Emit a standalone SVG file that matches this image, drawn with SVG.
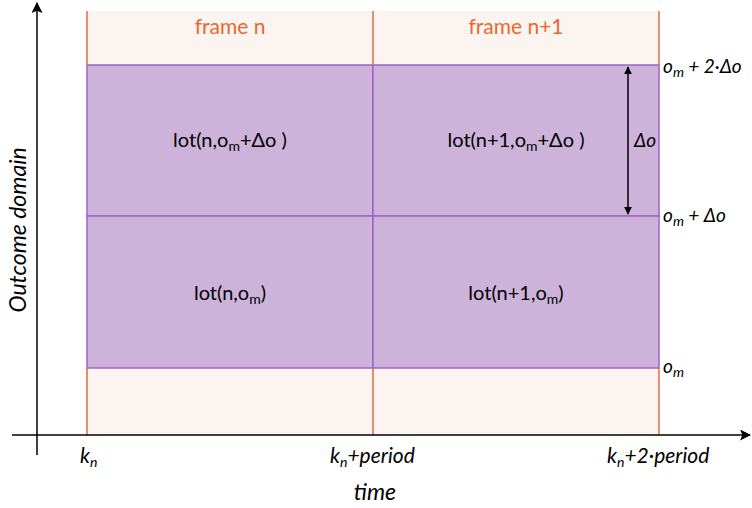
<svg xmlns="http://www.w3.org/2000/svg" width="752" height="508" viewBox="0 0 752 508">
<defs>
<marker id="ah" viewBox="0 0 10 10" refX="9" refY="5" markerWidth="8" markerHeight="8" markerUnits="userSpaceOnUse" orient="auto-start-reverse">
<path d="M0,0 L10,5 L0,10 Z" fill="#000"/>
</marker>
<marker id="ax" viewBox="0 0 10 10" refX="9" refY="5" markerWidth="11" markerHeight="11" markerUnits="userSpaceOnUse" orient="auto">
<path d="M0,0 L10,5 L0,10 L2,5 Z" fill="#000"/>
</marker>
</defs>
<style>
text{font-family:Lato,"Liberation Sans",sans-serif;font-size:20px;fill:#000}
.lot{text-anchor:middle}
.fr{fill:#e9692c;text-anchor:middle;font-size:21px}
.it{font-style:italic}
.rl{font-size:19px}
.bl{font-size:21px}
.big{font-size:23px}
.sub{font-size:14px}
.frame{fill:#fcf4f0}
.cell{fill:#cdb3da;stroke:#9b64c8;stroke-width:1.5}
.vline{stroke:#e46d3c;stroke-width:1.5}
.axis{stroke:#000;stroke-width:1.5;fill:none}
</style>
<rect width="752" height="508" fill="#fff"/>
<g id="frame-n">
<rect class="frame" x="87" y="11" width="286" height="424"/>
<text class="fr" x="230" y="34">frame n</text>
</g>
<g id="frame-n1">
<rect class="frame" x="373" y="11" width="286" height="424"/>
<text class="fr" x="516" y="34">frame n+1</text>
</g>
<g id="lot-n-dom">
<rect class="cell" x="87" y="65" width="286" height="151"/>
<text class="lot" x="230" y="147">lot(n,o<tspan class="sub" dy="4">m</tspan><tspan dy="-4">+Δo )</tspan></text>
</g>
<g id="lot-n1-dom">
<rect class="cell" x="373" y="65" width="286" height="151"/>
<text class="lot" x="516" y="147">lot(n+1,o<tspan class="sub" dy="4">m</tspan><tspan dy="-4">+Δo )</tspan></text>
</g>
<g id="lot-n-om">
<rect class="cell" x="87" y="216" width="286" height="152"/>
<text class="lot" x="230" y="300">lot(n,o<tspan class="sub" dy="4">m</tspan><tspan dy="-4">)</tspan></text>
</g>
<g id="lot-n1-om">
<rect class="cell" x="373" y="216" width="286" height="152"/>
<text class="lot" x="516" y="300">lot(n+1,o<tspan class="sub" dy="4">m</tspan><tspan dy="-4">)</tspan></text>
</g>
<g id="boundaries">
<line class="vline" x1="87" y1="11" x2="87" y2="65"/>
<line class="vline" x1="87" y1="368" x2="87" y2="435"/>
<line class="vline" x1="373" y1="11" x2="373" y2="65"/>
<line class="vline" x1="373" y1="368" x2="373" y2="435"/>
<line class="vline" x1="659" y1="11" x2="659" y2="65"/>
<line class="vline" x1="659" y1="368" x2="659" y2="435"/>
</g>
<g id="connectors">
<line class="axis" x1="37" y1="455" x2="37" y2="3" marker-end="url(#ax)"/>
<line class="axis" x1="12" y1="435" x2="750" y2="435" marker-end="url(#ax)"/>
<line class="axis" x1="628" y1="67" x2="628" y2="214" marker-start="url(#ah)" marker-end="url(#ah)"/>
</g>
<g id="labels">
<text class="it rl" x="634" y="147">Δo</text>
<text class="it rl" x="663" y="73">o<tspan class="sub" dy="4">m</tspan><tspan dy="-4"> + 2·Δo</tspan></text>
<text class="it rl" x="663" y="222">o<tspan class="sub" dy="4">m</tspan><tspan dy="-4"> + Δo</tspan></text>
<text class="it rl" x="663" y="373">o<tspan class="sub" dy="4">m</tspan></text>
<text class="it bl" x="80" y="463">k<tspan class="sub" dy="4">n</tspan></text>
<text class="it bl" x="330" y="463">k<tspan class="sub" dy="4">n</tspan><tspan dy="-4">+period</tspan></text>
<text class="it bl" x="607" y="463">k<tspan class="sub" dy="4">n</tspan><tspan dy="-4">+2·period</tspan></text>
<text class="it big" x="375" y="500" text-anchor="middle">time</text>
<text class="it big" transform="translate(26,230) rotate(-90)" text-anchor="middle">Outcome domain</text>
</g>
</svg>
